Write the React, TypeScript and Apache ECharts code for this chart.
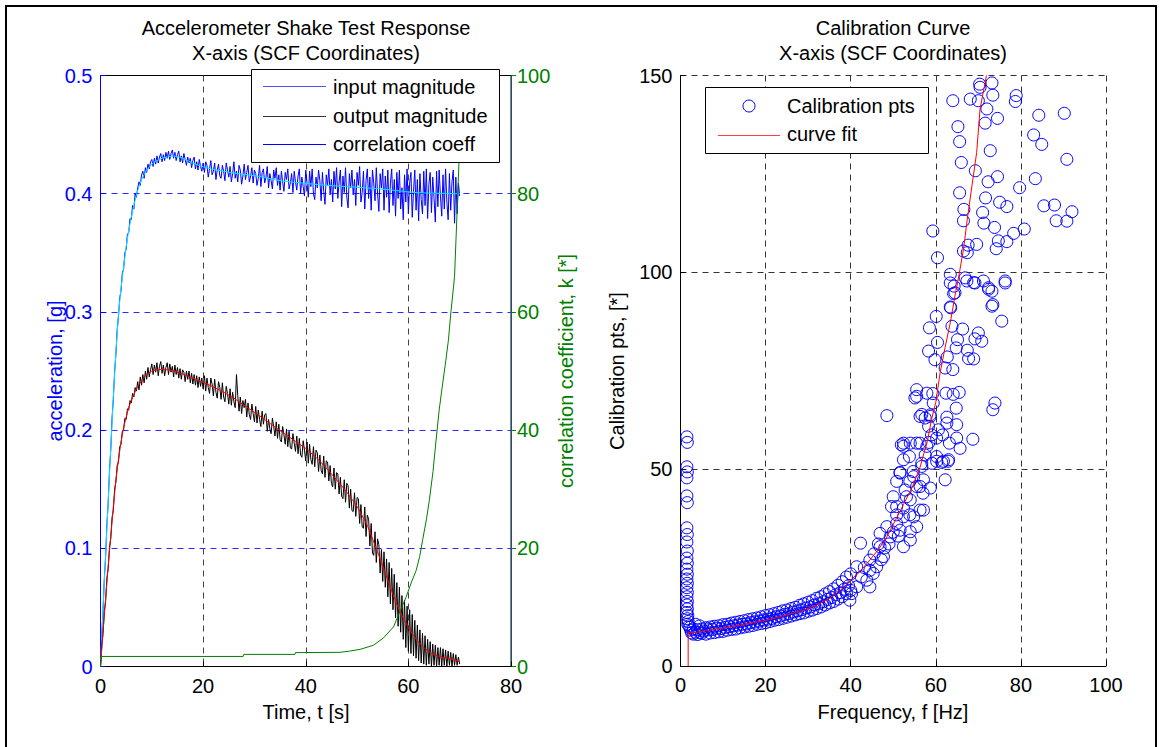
import { useEffect, useRef } from "react";
import * as echarts from "echarts";

const FONT = "'Liberation Sans', Arial, Helvetica, sans-serif";
const FS = 20;

// time base of the sampled magnitudes (seconds between samples)
const T_STEP = 0.25;

// input magnitude, t = 0 .. 70 s (one row per second after t = 0)
const inputMagnitude = [
  0,
  0.027, 0.048, 0.075, 0.093,
  0.121, 0.138, 0.166, 0.183,
  0.21, 0.226, 0.25, 0.264,
  0.285, 0.296, 0.312, 0.318,
  0.333, 0.336, 0.35, 0.353,
  0.366, 0.367, 0.379, 0.378,
  0.39, 0.387, 0.4, 0.397,
  0.405, 0.41, 0.407, 0.416,
  0.419, 0.413, 0.422, 0.418,
  0.425, 0.421, 0.427, 0.429,
  0.423, 0.43, 0.425, 0.432,
  0.426, 0.431, 0.434, 0.427,
  0.433, 0.428, 0.435, 0.43,
  0.436, 0.429, 0.434, 0.437,
  0.43, 0.435, 0.428, 0.433,
  0.436, 0.427, 0.432, 0.426,
  0.434, 0.429, 0.424, 0.431,
  0.426, 0.43, 0.422, 0.428,
  0.431, 0.421, 0.427, 0.42,
  0.429, 0.423, 0.419, 0.426,
  0.418, 0.427, 0.424, 0.414,
  0.421, 0.428, 0.416, 0.419,
  0.426, 0.412, 0.42, 0.425,
  0.415, 0.413, 0.424, 0.419,
  0.411, 0.426, 0.42, 0.414,
  0.423, 0.41, 0.417, 0.427,
  0.413, 0.419, 0.41, 0.424,
  0.42, 0.408, 0.415, 0.425,
  0.412, 0.418, 0.424, 0.41,
  0.415, 0.422, 0.409, 0.42,
  0.417, 0.407, 0.413, 0.424,
  0.406, 0.418, 0.421, 0.409,
  0.414, 0.423, 0.405, 0.417,
  0.411, 0.404, 0.42, 0.413,
  0.422, 0.407, 0.416, 0.403,
  0.419, 0.41, 0.402, 0.418,
  0.412, 0.421, 0.404, 0.409,
  0.417, 0.401, 0.419, 0.41,
  0.403, 0.415, 0.421, 0.4,
  0.414, 0.406, 0.398, 0.42,
  0.409, 0.397, 0.419, 0.406,
  0.421, 0.4, 0.395, 0.414,
  0.405, 0.42, 0.411, 0.394,
  0.418, 0.402, 0.391, 0.416,
  0.407, 0.421, 0.399, 0.412,
  0.393, 0.419, 0.404, 0.422,
  0.396, 0.41, 0.42, 0.389,
  0.415, 0.401, 0.422, 0.397,
  0.388, 0.417, 0.405, 0.42,
  0.399, 0.412, 0.39, 0.418,
  0.407, 0.423, 0.393, 0.401,
  0.419, 0.387, 0.411, 0.421,
  0.396, 0.414, 0.386, 0.42,
  0.409, 0.394, 0.422, 0.4,
  0.385, 0.417, 0.405, 0.421,
  0.386, 0.415, 0.397, 0.42,
  0.384, 0.409, 0.421, 0.39,
  0.412, 0.381, 0.418, 0.396,
  0.42, 0.387, 0.405, 0.378,
  0.416, 0.393, 0.421, 0.383,
  0.409, 0.418, 0.38, 0.402,
  0.42, 0.386, 0.412, 0.377,
  0.417, 0.395, 0.383, 0.419,
  0.39, 0.421, 0.379, 0.408,
  0.418, 0.384, 0.414, 0.396,
  0.376, 0.419, 0.389, 0.42,
  0.398, 0.381, 0.416, 0.387,
  0.421, 0.393, 0.378, 0.417,
  0.386, 0.41, 0.42, 0.375,
  0.414, 0.383, 0.409, 0.398,
];

// output magnitude, t = 0 .. 70 s (one row per second after t = 0)
const outputMagnitude = [
  0,
  0.018, 0.028, 0.047, 0.055,
  0.075, 0.083, 0.101, 0.108,
  0.126, 0.132, 0.15, 0.156,
  0.17, 0.173, 0.186, 0.188,
  0.199, 0.2, 0.21, 0.209,
  0.218, 0.217, 0.225, 0.223,
  0.231, 0.228, 0.236, 0.233,
  0.241, 0.234, 0.245, 0.238,
  0.247, 0.24, 0.25, 0.243,
  0.253, 0.245, 0.251, 0.256,
  0.247, 0.255, 0.249, 0.257,
  0.246, 0.254, 0.258, 0.248,
  0.255, 0.246, 0.253, 0.257,
  0.247, 0.256, 0.249, 0.254,
  0.245, 0.255, 0.247, 0.253,
  0.244, 0.252, 0.243, 0.251,
  0.249, 0.241, 0.25, 0.243,
  0.25, 0.24, 0.248, 0.239,
  0.247, 0.238, 0.246, 0.236,
  0.245, 0.237, 0.244, 0.235,
  0.246, 0.233, 0.244, 0.236,
  0.231, 0.244, 0.239, 0.229,
  0.243, 0.232, 0.227, 0.241,
  0.236, 0.226, 0.24, 0.228,
  0.224, 0.237, 0.231, 0.222,
  0.235, 0.221, 0.232, 0.224,
  0.219, 0.247, 0.229, 0.216,
  0.228, 0.214, 0.225, 0.219,
  0.226, 0.211, 0.223, 0.213,
  0.209, 0.222, 0.214, 0.207,
  0.22, 0.206, 0.217, 0.209,
  0.203, 0.216, 0.205, 0.213,
  0.214, 0.199, 0.209, 0.201,
  0.197, 0.21, 0.203, 0.195,
  0.207, 0.193, 0.205, 0.192,
  0.19, 0.203, 0.196, 0.188,
  0.201, 0.186, 0.199, 0.185,
  0.184, 0.197, 0.189, 0.182,
  0.195, 0.18, 0.193, 0.179,
  0.177, 0.191, 0.183, 0.174,
  0.19, 0.172, 0.188, 0.175,
  0.171, 0.186, 0.169, 0.183,
  0.181, 0.165, 0.179, 0.166,
  0.163, 0.178, 0.16, 0.174,
  0.173, 0.157, 0.17, 0.155,
  0.152, 0.168, 0.15, 0.164,
  0.163, 0.146, 0.16, 0.144,
  0.142, 0.158, 0.139, 0.155,
  0.153, 0.134, 0.15, 0.132,
  0.131, 0.147, 0.127, 0.143,
  0.142, 0.121, 0.137, 0.118,
  0.117, 0.135, 0.11, 0.128,
  0.125, 0.102, 0.121, 0.096,
  0.094, 0.114, 0.088, 0.108,
  0.103, 0.079, 0.099, 0.072,
  0.097, 0.067, 0.091, 0.059,
  0.088, 0.053, 0.083, 0.048,
  0.078, 0.041, 0.071, 0.034,
  0.067, 0.029, 0.06, 0.023,
  0.056, 0.016, 0.051, 0.013,
  0.048, 0.011, 0.044, 0.009,
  0.039, 0.007, 0.035, 0.005,
  0.031, 0.003, 0.028, 0.002,
  0.026, 0.001, 0.023, 0.002,
  0.021, 0, 0.019, 0.001,
  0.018, 0, 0.016, 0.001,
  0.016, 0, 0.015, 0.001,
  0.014, 0, 0.013, 0.001,
  0.012, 0, 0.011, 0.001,
  0.01, 0.001, 0.008, 0.002,
];

// smooth fit of the input magnitude [t, g]
const inputFit: [number, number][] = [
  [0, 0], [0.5, 0.05], [1, 0.095], [1.5, 0.14], [2, 0.185], [2.5, 0.228], [3, 0.266],
  [3.5, 0.298], [4, 0.32], [4.5, 0.338], [5, 0.355], [5.5, 0.369], [6, 0.38], [6.5, 0.39],
  [7, 0.399], [7.5, 0.406], [8, 0.412], [9, 0.42], [10, 0.425], [11, 0.428], [12, 0.43],
  [13, 0.431], [14, 0.432], [15, 0.4315], [16, 0.43], [17, 0.428], [18, 0.426], [19, 0.4243],
  [20, 0.4228], [22, 0.4205], [24, 0.419], [26, 0.4175], [28, 0.4163], [30, 0.4153],
  [32, 0.4138], [34, 0.4118], [36, 0.4105], [38, 0.4095], [40, 0.4088], [42, 0.4078],
  [44, 0.4072], [46, 0.4065], [48, 0.406], [50, 0.4055], [52, 0.4048], [54, 0.4043],
  [56, 0.4035], [58, 0.4025], [60, 0.4015], [62, 0.4008], [64, 0.4005], [66, 0.4003],
  [68, 0.4002], [69.5, 0.4], [70, 0.4],
];

// smooth fit of the output magnitude [t, g]
const outputFit: [number, number][] = [
  [0, 0], [0.5, 0.03], [1, 0.058], [1.5, 0.085], [2, 0.11], [2.5, 0.135], [3, 0.158],
  [3.5, 0.175], [4, 0.19], [4.5, 0.202], [5, 0.211], [5.5, 0.219], [6, 0.225], [7, 0.235],
  [8, 0.242], [9, 0.247], [10, 0.25], [11, 0.251], [12, 0.2512], [13, 0.251], [14, 0.2505],
  [15, 0.249], [16, 0.2475], [17, 0.2458], [18, 0.244], [20, 0.2405], [22, 0.2365],
  [24, 0.232], [26, 0.227], [28, 0.221], [30, 0.215], [32, 0.209], [34, 0.2025],
  [36, 0.1965], [38, 0.1905], [40, 0.1845], [42, 0.177], [44, 0.168], [46, 0.158],
  [48, 0.1475], [50, 0.1355], [52, 0.1195], [54, 0.097], [56, 0.073], [57, 0.061],
  [58, 0.05], [59, 0.041], [60, 0.033], [61, 0.026], [62, 0.0205], [63, 0.016],
  [64, 0.0125], [65, 0.01], [66, 0.0085], [67, 0.0075], [68, 0.0068], [69, 0.0055], [70, 0.004],
];

// correlation coefficient k [t, k]
const corrCoeff: [number, number][] = [
  [0, 0], [0.05, 1.7], [27.8, 1.7], [27.9, 2.05], [37.9, 2.05], [38, 2.35], [46.7, 2.4],
  [48.5, 2.6], [50.6, 2.9], [53.2, 3.6], [55.1, 4.8], [57.1, 6.7], [58.4, 9.4], [59.5, 11.6],
  [60.7, 14.5], [61.5, 16.2], [62.2, 18.6], [62.8, 21.5], [63.5, 24.8], [64.1, 28.2],
  [64.8, 33], [65.4, 38.3], [66, 43.4], [66.7, 48], [67.3, 51.8], [67.8, 55.2], [68.3, 60],
  [69, 66], [69.3, 72.7], [69.6, 79.4], [69.8, 84], [69.9, 86],
];

// calibration points [f Hz, value]
const calibPts: [number, number][] = [
  [1.5, 58.2], [1.6, 56.8], [1.5, 50.6], [1.6, 49.3], [1.5, 47.8], [1.5, 43.2], [1.6, 41.5],
  [1.5, 35.1], [1.6, 33.4], [1.5, 31.5], [1.6, 29.2], [1.5, 27.4], [1.6, 26.1], [1.5, 24.6],
  [1.6, 23.3], [1.5, 22.1], [1.6, 21.0], [1.5, 19.9], [1.6, 18.7], [1.5, 17.6], [1.6, 16.4],
  [1.5, 15.5], [1.6, 14.5], [1.5, 13.6], [1.7, 12.8], [1.6, 12.0], [1.8, 11.3], [1.7, 10.6],
  [2.0, 10.2], [2.2, 9.8], [2.4, 9.1], [2.6, 8.4],
  [3, 8.1], [3, 9.4], [3.5, 10.6], [3.5, 8.6], [4, 8.0], [4, 9.2], [4.5, 10.2], [4.5, 8.5],
  [5, 8.3], [5, 9.4], [5.5, 8.9], [6, 8.1], [6, 9.7], [6.5, 9.2], [7, 8.4], [7, 9.9],
  [7.5, 9.3], [8, 8.5], [8, 10.1], [8.5, 9.6], [9, 8.7], [9, 10.2], [9.5, 9.5], [10, 8.8],
  [10, 10.5], [10.5, 9.8], [11, 9.1], [11, 10.6], [11.5, 10.0], [12, 9.3], [12, 10.9],
  [12.5, 10.2], [13, 9.4], [13, 11.1], [13.5, 10.4], [14, 9.7], [14, 11.3], [14.5, 10.6],
  [15, 9.9], [15, 11.5], [15.5, 10.7], [16, 10.1], [16, 11.8], [16.5, 11.0], [17, 10.3],
  [17, 12.0], [17.5, 11.2], [18, 10.6], [18, 12.2], [18.5, 11.4], [19, 10.8], [19, 12.5],
  [19.5, 11.7], [20, 11.0], [20, 12.8], [20.5, 11.9], [21, 11.3], [21, 13.0], [21.5, 12.1],
  [22, 11.6], [22, 13.3], [22.5, 12.5], [23, 11.8], [23, 13.6], [23.5, 12.7], [24, 12.1],
  [24, 14.0], [24.5, 13.1], [25, 12.4], [25, 14.2], [25.5, 13.3], [26, 12.7], [26, 14.6],
  [26.5, 13.7], [27, 13.0], [27, 14.9], [27.5, 14.0], [28, 13.3], [28, 15.4], [28.5, 14.3],
  [29, 13.5], [29, 15.8], [29.5, 14.7], [30, 13.9], [30, 16.2], [30.5, 15.0], [31, 14.2],
  [31, 16.6], [31.5, 15.5], [32, 14.6], [32, 17.2], [32.5, 15.8], [33, 15.0], [33, 17.6],
  [33.5, 16.3], [34, 15.5], [34, 18.3], [34.5, 16.9], [35, 16.0], [35, 18.9], [35.5, 17.4],
  [36, 16.4], [36, 19.6], [36.5, 18.1], [37, 17.0], [37, 20.5], [37.5, 18.6], [38, 17.6],
  [38, 21.4], [38.5, 19.5], [39, 18.4], [39, 22.6], [39.5, 20.4], [39.8, 16.7], [40, 19.2],
  [40, 23.4],
  [40.2, 18.4], [41.4, 20.1], [41.4, 25.2], [42.3, 31.2], [42.5, 22.6], [43.2, 25], [43.8, 21.8],
  [44.5, 20.1], [44.5, 24.3], [44.5, 26.9], [45.3, 23.5], [45.5, 28.5], [46.1, 25.2], [46.5, 31],
  [46.9, 30.3], [46.9, 33.7], [47.2, 27], [47.7, 27.8], [48, 30], [48.5, 35.4], [48.5, 63.6],
  [49, 31], [49.3, 32.8], [49.6, 40.5], [50, 43], [50, 34], [50.8, 36.2], [50.8, 40.5],
  [50.8, 46.9], [50.8, 38.4], [51.2, 33], [51.6, 34.5], [51.6, 49], [51.6, 49.2], [51.9, 56.2],
  [52.4, 30.3], [52.4, 37.9], [52.4, 40.1], [52.4, 52.4], [52.4, 55.8], [52.4, 56.6],
  [52.8, 44.7], [53.1, 43], [53.8, 53.2], [53.9, 46.9], [53.9, 38.4], [54, 34.1], [54, 42.2],
  [54, 32], [54, 56.6], [54.7, 49.4], [54.8, 37.9], [54.8, 48.1], [55.1, 68.1], [55.5, 35.4],
  [55.5, 45.6], [55.5, 56.6], [55.5, 68.5], [55.5, 70.2], [56.3, 39.6], [56.3, 45.6],
  [56.3, 56.6], [56.3, 63.4], [56.7, 50.7], [56.7, 51.5], [56.7, 63.9], [57, 43.9], [57.1, 39.6],
  [57.1, 47.3], [57.5, 53.6], [57.5, 63], [57.9, 55.8], [57.9, 69.3], [58.3, 60.9], [58.3, 80],
  [58.4, 56.8], [58.5, 85.9], [58.7, 45.2], [58.7, 63.4], [58.7, 63.8], [59, 58.7], [59.1, 51.5],
  [59.3, 69.2], [59.3, 110.5], [59.4, 66.8], [59.8, 77.8], [60.1, 88.8], [60.2, 52], [60.2, 53.2],
  [60.2, 57.9], [60.4, 82.2], [60.4, 103.7], [60.6, 60], [61.4, 51.7], [61.6, 58.7], [61.8, 52],
  [62.2, 47.3], [62.2, 75.7], [62.4, 69.3], [62.6, 61.7], [62.6, 63.2], [62.7, 78.5], [62.9, 52],
  [63, 52.4], [63.2, 56.6], [63.4, 97.3], [63.4, 91.2], [63.4, 99.5], [63.5, 91], [63.8, 86.3],
  [64, 75.3], [64, 143.6], [64.1, 69], [64.2, 94.6], [64.3, 96.5], [64.5, 94.8], [64.8, 80.8],
  [64.8, 65.5], [64.9, 57.9], [64.9, 61.3], [65.1, 82.9], [65.2, 137], [65.5, 69.5],
  [65.6, 133.2], [65.6, 120.2], [65.7, 55.3], [66, 127.9], [66.3, 85.6], [66.5, 105.4],
  [66.5, 113.1], [66.6, 116], [66.9, 98.6], [67.3, 97.8], [67.4, 80.2], [67.4, 105],
  [67.6, 106.9], [67.7, 78.1], [68.1, 144], [68.7, 57.6], [68.9, 78], [68.9, 97.4], [69.2, 83.1],
  [69.2, 97.3], [69.3, 125.8], [69.6, 107.1], [70, 84.6], [70, 143.6], [70.3, 147.8],
  [70.4, 147], [70.8, 82.5], [71, 115.2], [71.2, 97.8], [71.3, 112.5], [71.6, 137.9],
  [71.7, 118.9], [72, 141.5], [72.3, 123], [72.4, 96.1], [72.4, 95.7], [72.8, 130.9],
  [73.2, 148.1], [73.2, 95.2], [73.2, 91.4], [73.4, 145], [73.4, 91.8], [73.4, 65.1],
  [73.8, 111.4], [73.9, 66.8], [74.2, 106], [74.5, 139.1], [74.5, 124.3], [74.7, 108],
  [75, 117.8], [75.5, 87.6], [76.3, 97.3], [76.3, 97.8], [76.7, 116.7], [76.7, 107.8],
  [78.3, 109.9], [78.7, 143.4], [78.9, 144.9], [79.7, 121.5], [80.8, 111], [83, 134.9],
  [83.4, 123.8], [84.2, 139.9], [84.9, 132.5], [85.4, 116.9], [87.9, 117.1], [88.3, 113.1],
  [90.2, 140.4], [90.8, 128.7], [90.8, 113], [92, 115.4],
];

// fitted calibration curve [f Hz, value]
const curveFit: [number, number][] = [
  [1.8, 0], [1.8, 8.5], [3.5, 8.5], [6, 9.0], [9.2, 9.5], [12, 10], [15, 10.6], [18, 11.2],
  [20, 11.6], [23, 12.4], [26, 13.3], [28.9, 14.2], [32, 15.5], [35.1, 17.2], [38, 19.6],
  [40, 21.8], [42, 23.8], [44.5, 26.9], [46.5, 29.6], [48.5, 32.8], [50.4, 36.8], [52.4, 41],
  [54.5, 45.5], [56.3, 50.5], [58, 57], [59, 62.6], [60, 67], [61, 74.4], [62.2, 81],
  [63.4, 87.2], [64.5, 94], [65.4, 99], [66.5, 105.8], [67.4, 113.5], [68.5, 122],
  [69.6, 130.4], [70.4, 141.5], [71.9, 150],
];

const leftTitle = ["Accelerometer Shake Test Response", "X-axis (SCF Coordinates)"];
const rightTitle = ["Calibration Curve", "X-axis (SCF Coordinates)"];
const leftLegend = ["input magnitude", "output magnitude", "correlation coeff"];
const rightLegend = ["Calibration pts", "curve fit"];

const sampled = (vals: number[]) => vals.map((v, i) => [i * T_STEP, v]);

function txt(text: string, x: number, y: number, color = "#000", align = "center", rotation = 0) {
  return {
    type: "text",
    x,
    y,
    rotation,
    z: 100,
    silent: true,
    style: {
      text,
      fill: color,
      font: `${FS}px ${FONT}`,
      textAlign: align,
      textVerticalAlign: "middle",
      align,
      verticalAlign: "middle",
    },
  };
}

function hline(x1: number, x2: number, y: number, color: string) {
  return {
    type: "line",
    z: 100,
    silent: true,
    shape: { x1, y1: y, x2, y2: y },
    style: { stroke: color, lineWidth: 1 },
  };
}

export default function App() {
  const ref = useRef<HTMLDivElement>(null);

  useEffect(() => {
    if (!ref.current) return;
    const chart = echarts.init(ref.current, undefined, { renderer: "svg" });

    const axisLabel = (color: string, margin: number) => ({
      color,
      fontSize: FS,
      fontFamily: FONT,
      margin,
    });

    const option: any = {
      animation: false,
      backgroundColor: "#fff",
      textStyle: { fontFamily: FONT },
      grid: [
        { left: 100.5, top: 75.5, width: 410.5, height: 591, show: true, borderColor: "#000", borderWidth: 1, backgroundColor: "transparent" },
        { left: 680.5, top: 75.5, width: 425.5, height: 590.5, show: false },
      ],
      xAxis: [
        {
          gridIndex: 0, type: "value", min: 0, max: 80, interval: 20,
          axisLine: { show: true, lineStyle: { color: "#000", width: 1 } },
          axisTick: { show: true, inside: true, length: 5, lineStyle: { color: "#000" } },
          axisLabel: axisLabel("#000", 9),
          splitLine: { show: true, showMinLine: false, showMaxLine: false, lineStyle: { color: "#444", type: [6, 5], width: 1 } },
        },
        {
          gridIndex: 1, type: "value", min: 0, max: 100, interval: 20,
          axisLine: { show: true, lineStyle: { color: "#000", width: 1 } },
          axisTick: { show: true, inside: true, length: 5, lineStyle: { color: "#000" } },
          axisLabel: axisLabel("#000", 9),
          splitLine: { show: true, showMinLine: false, lineStyle: { color: "#333", type: [6, 5], width: 1 } },
        },
      ],
      yAxis: [
        {
          gridIndex: 0, type: "value", position: "left", min: 0, max: 0.5, interval: 0.1,
          axisLine: { show: true, lineStyle: { color: "#0000ff", width: 1 } },
          axisTick: { show: true, inside: true, length: 5, lineStyle: { color: "#0000ff" } },
          axisLabel: axisLabel("#0000ff", 8),
          splitLine: { show: true, showMinLine: false, showMaxLine: false, lineStyle: { color: "#2a2aff", type: [6, 5], width: 1 } },
        },
        {
          gridIndex: 0, type: "value", position: "right", min: 0, max: 100, interval: 20,
          axisLine: { show: true, lineStyle: { color: "#1d5573", width: 1 } },
          axisTick: { show: true, inside: false, length: 5, lineStyle: { color: "#008000" } },
          axisLabel: axisLabel("#008000", 6),
          splitLine: { show: false },
        },
        {
          gridIndex: 1, type: "value", position: "left", min: 0, max: 150, interval: 50,
          axisLine: { show: true, lineStyle: { color: "#000", width: 1 } },
          axisTick: { show: true, inside: true, length: 5, lineStyle: { color: "#000" } },
          axisLabel: axisLabel("#000", 8),
          splitLine: { show: true, showMinLine: false, lineStyle: { color: "#333", type: [6, 5], width: 1 } },
        },
      ],
      series: [
        {
          name: leftLegend[0], type: "line", xAxisIndex: 0, yAxisIndex: 0,
          data: sampled(inputMagnitude), showSymbol: false, symbol: "none",
          lineStyle: { color: "#0000ff", width: 1 }, z: 2,
        },
        {
          name: "input fit", type: "line", xAxisIndex: 0, yAxisIndex: 0,
          data: inputFit, showSymbol: false, symbol: "none",
          lineStyle: { color: "#00e8ff", width: 1 }, z: 3,
        },
        {
          name: leftLegend[1], type: "line", xAxisIndex: 0, yAxisIndex: 0,
          data: sampled(outputMagnitude), showSymbol: false, symbol: "none",
          lineStyle: { color: "#000", width: 1 }, z: 4,
        },
        {
          name: "output fit", type: "line", xAxisIndex: 0, yAxisIndex: 0,
          data: outputFit, showSymbol: false, symbol: "none",
          lineStyle: { color: "#ff0000", width: 1 }, z: 5,
        },
        {
          name: leftLegend[2], type: "line", xAxisIndex: 0, yAxisIndex: 1,
          data: corrCoeff, showSymbol: false, symbol: "none",
          lineStyle: { color: "#008000", width: 1 }, z: 6,
        },
        {
          name: rightLegend[0], type: "scatter", xAxisIndex: 1, yAxisIndex: 2,
          data: calibPts, symbol: "circle", symbolSize: 12,
          itemStyle: { color: "rgba(0,0,0,0)", borderColor: "#0000ff", borderWidth: 1, opacity: 1 },
          z: 3,
        },
        {
          name: rightLegend[1], type: "line", xAxisIndex: 1, yAxisIndex: 2,
          data: curveFit, showSymbol: false, symbol: "none",
          lineStyle: { color: "#ff0000", width: 1 }, z: 5,
        },
      ],
      graphic: [
        {
          type: "rect", z: 100, silent: true,
          shape: { x: 6, y: 6, width: 1150, height: 746 },
          style: { fill: "none", stroke: "#000", lineWidth: 2 },
        },
        txt(leftTitle[0], 306, 28),
        txt(leftTitle[1], 306, 53),
        txt(rightTitle[0], 893, 28),
        txt(rightTitle[1], 893, 53),
        txt("Time, t [s]", 306, 712),
        txt("Frequency, f [Hz]", 893, 712),
        txt("acceleration, [g]", 55, 371, "#0000ff", "center", Math.PI / 2),
        txt("correlation coefficient, k [*]", 566, 371, "#008000", "center", Math.PI / 2),
        txt("Calibration pts, [*]", 617, 371, "#000", "center", Math.PI / 2),
        // left legend
        {
          type: "rect", z: 99, silent: true,
          shape: { x: 251.5, y: 69.5, width: 248, height: 93 },
          style: { fill: "#fff", stroke: "#000", lineWidth: 1 },
        },
        hline(263, 326, 86.5, "#5050ff"),
        hline(263, 326, 116.5, "#333333"),
        hline(263, 326, 144.5, "#0000ff"),
        txt(leftLegend[0], 333, 87, "#000", "left"),
        txt(leftLegend[1], 333, 116, "#000", "left"),
        txt(leftLegend[2], 333, 144, "#000", "left"),
        // right legend
        {
          type: "rect", z: 99, silent: true,
          shape: { x: 705.5, y: 87.5, width: 223, height: 66 },
          style: { fill: "#fff", stroke: "#000", lineWidth: 1 },
        },
        {
          type: "circle", z: 100, silent: true,
          shape: { cx: 749, cy: 106, r: 6 },
          style: { fill: "none", stroke: "#0000ff", lineWidth: 1 },
        },
        hline(718, 780, 135.5, "#ff4040"),
        txt(rightLegend[0], 787, 106, "#000", "left"),
        txt(rightLegend[1], 787, 134, "#000", "left"),
      ],
    };

    chart.setOption(option);
    return () => chart.dispose();
  }, []);

  return (
    <div
      ref={ref}
      style={{ position: "fixed", left: 0, top: 0, width: 1160, height: 747, background: "#fff" }}
    />
  );
}
